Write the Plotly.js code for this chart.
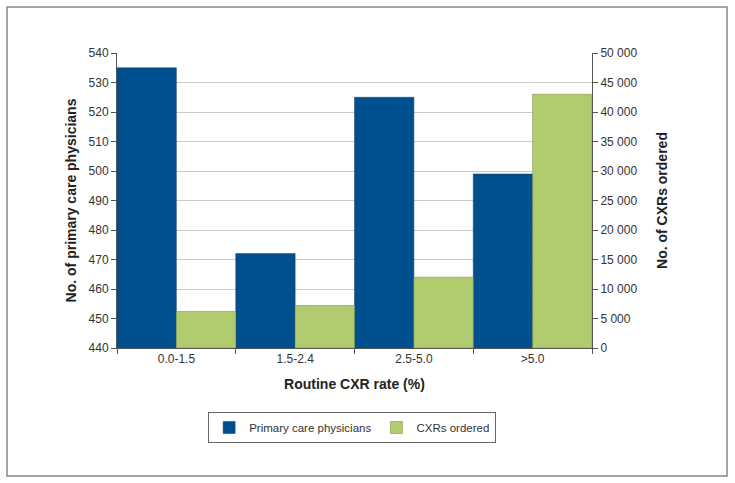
<!DOCTYPE html>
<html>
<head>
<meta charset="utf-8">
<script src="https://cdn.plot.ly/plotly-3.0.1.min.js"></script>
<style>html,body{margin:0;padding:0;background:#fff;}#chart{width:735px;height:483px;}</style>
</head>
<body>
<div id="chart"></div>
<script>
const categories = ["0.0-1.5", "1.5-2.4", "2.5-5.0", ">5.0"];
const physicians = [535, 472, 525, 499];
const cxrsOrdered = [6200, 7200, 12000, 43000];
const leftTicks = [440, 450, 460, 470, 480, 490, 500, 510, 520, 530, 540];
const rightTickVals = [0, 5000, 10000, 15000, 20000, 25000, 30000, 35000, 40000, 45000, 50000];
const rightTickText = ["0", "5 000", "10 000", "15 000", "20 000", "25 000", "30 000", "35 000", "40 000", "45 000", "50 000"];

const font = "Liberation Sans, Arial, sans-serif";

const traces = [
  {
    type: "bar", name: "Primary care physicians", x: categories, y: physicians,
    offset: -0.5, width: 0.5, yaxis: "y",
    marker: {color: "#00508f", line: {color: "#1a3c63", width: 0.5}},
    hoverinfo: "x+y"
  },
  {
    type: "bar", name: "CXRs ordered", x: categories, y: cxrsOrdered,
    offset: 0, width: 0.5, yaxis: "y2",
    marker: {color: "#b0cc6e", line: {color: "#6f8a3c", width: 0.5}},
    hoverinfo: "x+y"
  }
];

const layout = {
  width: 735, height: 483,
  margin: {l: 117, r: 143, t: 53, b: 135},
  paper_bgcolor: "#ffffff", plot_bgcolor: "#ffffff",
  font: {family: font, size: 12, color: "#333"},
  showlegend: true,
  barmode: "overlay",
  xaxis: {
    type: "category", range: [-0.5, 3.5],
    tickson: "boundaries", ticks: "outside", ticklen: 5, tickcolor: "#555",
    showline: true, linecolor: "#555", linewidth: 1,
    showgrid: false, zeroline: false,
    tickfont: {size: 12, color: "#333", family: font},
    title: {text: "Routine CXR rate (%)", font: {size: 14, color: "#222", family: font, weight: "bold"}, standoff: 13}
  },
  yaxis: {
    range: [440, 540], tickvals: leftTicks,
    ticks: "outside", ticklen: 5, tickcolor: "#555",
    showline: true, linecolor: "#555", linewidth: 1,
    showgrid: true, gridcolor: "#cccccc", gridwidth: 1, zeroline: false,
    tickfont: {size: 12, color: "#333", family: font},
    title: {text: "No. of primary care physicians", font: {size: 14, color: "#222", family: font, weight: "bold"}, standoff: 8}
  },
  yaxis2: {
    overlaying: "y", side: "right",
    range: [0, 50000], tickvals: rightTickVals, ticktext: rightTickText,
    ticks: "outside", ticklen: 5, tickcolor: "#555",
    showline: true, linecolor: "#555", linewidth: 1,
    showgrid: false, zeroline: false,
    tickfont: {size: 12, color: "#333", family: font},
    title: {text: "No. of CXRs ordered", font: {size: 14, color: "#222", family: font, weight: "bold"}, standoff: 20}
  },
  legend: {
    orientation: "h", x: 0.495, xanchor: "center", y: -0.217, yanchor: "top",
    bordercolor: "#666", borderwidth: 1, bgcolor: "#fff",
    font: {size: 11.5, color: "#333", family: font}, traceorder: "normal",
    itemwidth: 30
  },
  shapes: [
    {type: "rect", xref: "paper", yref: "paper",
     x0: -0.2316, x1: 1.2842, y0: -0.4339, y1: 1.156,
     line: {color: "#888", width: 1.5}, fillcolor: "rgba(0,0,0,0)", layer: "below"}
  ]
};

Plotly.newPlot("chart", traces, layout, {displayModeBar: false, staticPlot: true});
</script>
</body>
</html>
